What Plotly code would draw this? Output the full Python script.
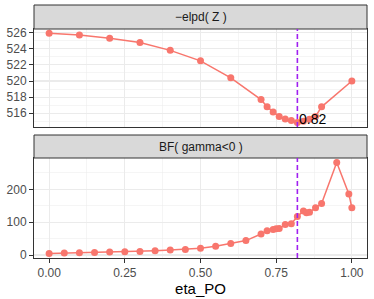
import plotly.graph_objects as go

# ---- data ----
eta_top = [0.0, 0.1, 0.2, 0.3, 0.4, 0.5, 0.6, 0.7, 0.72, 0.74, 0.76, 0.78, 0.8, 0.82, 0.84, 0.86, 0.88, 0.9, 1.0]
elpd = [525.92, 525.7, 525.3, 524.77, 523.8, 522.5, 520.4, 517.7, 516.8, 516.15, 515.6, 515.3, 515.1, 514.85, 515.0, 515.25, 515.6, 516.8, 520.0]

eta_bot = [0.0, 0.05, 0.1, 0.15, 0.2, 0.25, 0.3, 0.35, 0.4, 0.45, 0.5, 0.55, 0.6, 0.65, 0.7, 0.72,
           0.74, 0.75, 0.76, 0.78, 0.8, 0.82, 0.84, 0.85, 0.86, 0.88, 0.9, 0.95, 0.99, 1.0]
bf = [5, 6, 7, 7.5, 9, 10, 11, 13, 15, 17, 20.5, 27, 35, 44, 64, 74,
      78, 80, 81, 93, 95, 117, 134, 129, 130, 144, 157, 282, 186, 144]

eta_star = 0.82
strip_labels = ["\u2212elpd( Z )", "BF( gamma<0 )"]
x_title = "eta_PO"

# ---- layout geometry (pixels) ----
W, H = 374, 299
px_l, px_r = 34, 367
area_t, area_b = 5, 258
top_t, top_b = 29, 127
bot_t, bot_b = 158, 258
strip1 = (5, 29)
strip2 = (135, 158)
AH = area_b - area_t

def fy(p):
    return 1 - (p - area_t) / AH

red = "#F8766D"
grid = "#EBEBEB"
border = "#333333"
font = "Liberation Sans, Arial, sans-serif"

fig = go.Figure()
fig.add_trace(go.Scatter(x=eta_top, y=elpd, mode="lines+markers", xaxis="x", yaxis="y",
                         line=dict(color=red, width=1.5), marker=dict(color=red, size=7),
                         showlegend=False, hoverinfo="skip"))
fig.add_trace(go.Scatter(x=eta_bot, y=bf, mode="lines+markers", xaxis="x2", yaxis="y2",
                         line=dict(color=red, width=1.5), marker=dict(color=red, size=7),
                         showlegend=False, hoverinfo="skip"))

xcommon = dict(range=[-0.05, 1.05], domain=[0, 1], tickmode="linear", tick0=0, dtick=0.25,
               showgrid=True, gridcolor=grid, gridwidth=1.1, zeroline=False, automargin=False,
               minor=dict(dtick=0.125, showgrid=True, gridcolor=grid, gridwidth=0.5),
               showline=True, linecolor=border, linewidth=1, mirror=True)

ycommon = dict(ticks="outside", ticklen=4, tickcolor=border, tickwidth=1, showgrid=True,
               gridcolor=grid, gridwidth=1.1, zeroline=False, showline=True, linecolor=border,
               linewidth=1, mirror=True, automargin=False, tickfont=dict(size=12, color="#4D4D4D"),
               tickmode="linear")

fig.update_layout(
    width=W, height=H, margin=dict(l=px_l, r=W - px_r, t=area_t, b=H - area_b, autoexpand=False),
    paper_bgcolor="white", plot_bgcolor="white",
    font=dict(family=font, size=12, color="#4D4D4D"),
    xaxis=dict(**xcommon, anchor="y", showticklabels=False, ticks=""),
    xaxis2=dict(**xcommon, anchor="y2", tickformat=".2f", ticks="outside", ticklen=4,
                tickcolor=border, tickwidth=1, tickfont=dict(size=12, color="#4D4D4D"),
                title=dict(text=x_title, font=dict(size=15, color="black"), standoff=2)),
    yaxis=dict(**ycommon, domain=[fy(top_b), fy(top_t)], range=[514.3, 526.45], anchor="x",
               tick0=516, dtick=2,
               minor=dict(dtick=1, showgrid=True, gridcolor=grid, gridwidth=0.5)),
    yaxis2=dict(**ycommon, domain=[fy(bot_b), fy(bot_t)], range=[-9, 295.5], anchor="x2",
                tick0=0, dtick=100,
                minor=dict(dtick=50, showgrid=True, gridcolor=grid, gridwidth=0.5)),
)

# strips
for (t, b), lab in zip([strip1, strip2], strip_labels):
    fig.add_shape(type="rect", xref="paper", yref="paper", x0=0, x1=1,
                  y0=fy(b), y1=fy(t), fillcolor="#D9D9D9", line=dict(color=border, width=1), layer="above")
    fig.add_annotation(xref="paper", yref="paper", x=0.5, y=fy((t + b) / 2),
                       text=lab, showarrow=False, font=dict(size=12, color="#1A1A1A"),
                       xanchor="center", yanchor="middle")

# dashed vertical line in both panels
for xr, yr in [("x", "y domain"), ("x2", "y2 domain")]:
    fig.add_shape(type="line", xref=xr, yref=yr, x0=eta_star, x1=eta_star, y0=0, y1=1,
                  line=dict(color="#A020F0", width=1.6, dash="5px,3px"))

fig.add_annotation(xref="x", yref="y", x=eta_star, y=515.3, text=f"{eta_star:.2f}",
                   showarrow=False, xanchor="left", yanchor="middle",
                   font=dict(size=14, color="black"))

fig.write_html("out.html", config={"displayModeBar": False, "staticPlot": True},
               post_script="document.body.style.margin='0';document.body.style.overflow='hidden';")
